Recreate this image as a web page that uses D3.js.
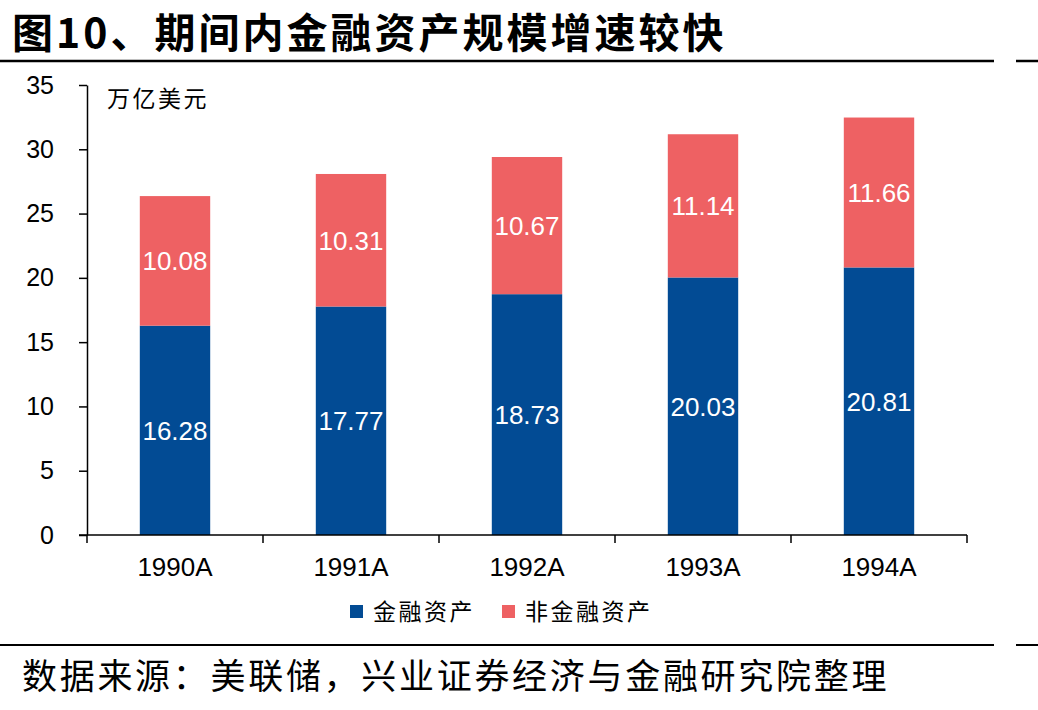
<!DOCTYPE html>
<html>
<head>
<meta charset="utf-8">
<script src="https://cdn.jsdelivr.net/npm/d3@7"></script>
<style>
  html, body { margin: 0; padding: 0; background: #fff; }
  svg { display: block; }
</style>
</head>
<body>
<svg id="chart" width="1038" height="710"></svg>
<script>
// data
const years = ["1990A", "1991A", "1992A", "1993A", "1994A"]
const financial = [16.28, 17.77, 18.73, 20.03, 20.81]
const nonFinancial = [10.08, 10.31, 10.67, 11.14, 11.66]
const yTicks = [0, 5, 10, 15, 20, 25, 30, 35]
const seriesNames = ["金融资产", "非金融资产"]
const seriesColors = ["#024B94", "#EE6163"]

const cjk = "'Noto Sans CJK SC', sans-serif"
const num = "'Liberation Sans', Arial, sans-serif"

let svg = d3.select("#chart")

// title + rules
svg.append("text")
    .text("图10、期间内金融资产规模增速较快")
    .attr("x", 12).attr("y", 48)
    .style("font-family", cjk).style("font-weight", "bold")
    .style("font-size", "41px").style("letter-spacing", "3px")
    .attr("fill", "#000")

let rules = [61, 645]
rules.forEach(y => {
    svg.append("line").attr("x1", 0).attr("x2", 994).attr("y1", y).attr("y2", y)
        .attr("stroke", "#000").attr("stroke-width", y == 61 ? 2.5 : 2)
    svg.append("line").attr("x1", 1016).attr("x2", 1038).attr("y1", y).attr("y2", y)
        .attr("stroke", "#000").attr("stroke-width", y == 61 ? 2.5 : 2)
})

// scales
const y = d3.scaleLinear().domain([0, 35]).range([535, 85])
const x = d3.scaleBand().domain(years).range([87, 967])
    .paddingInner(0.6).paddingOuter(0.3)

// bars
let stack = years.map((yr, i) => ({yr: yr, parts: [[0, financial[i]], [financial[i], financial[i] + nonFinancial[i]]]}))

stack.forEach(d => {
    d.parts.forEach((p, j) => {
        svg.append("rect")
            .attr("x", x(d.yr))
            .attr("width", x.bandwidth())
            .attr("y", y(p[1]))
            .attr("height", y(p[0]) - y(p[1]))
            .attr("fill", seriesColors[j])
        svg.append("text")
            .text((p[1] - p[0]).toFixed(2))
            .attr("x", x(d.yr) + x.bandwidth() / 2)
            .attr("y", (y(p[0]) + y(p[1])) / 2)
            .attr("dy", "0.36em")
            .style("text-anchor", "middle")
            .style("font-family", num).style("font-size", "26px")
            .attr("fill", "#fff")
    })
})

// y axis
let yAxis = svg.append("g")
    .attr("transform", "translate(87,0)")
    .call(d3.axisLeft(y).tickValues(yTicks).tickSize(8).tickPadding(25).tickSizeOuter(0))
yAxis.selectAll("path, line").attr("stroke", "#000").attr("stroke-width", 1.5)
yAxis.selectAll("text")
    .style("font-family", num).style("font-size", "25px").attr("fill", "#000")

// x axis
svg.append("line").attr("x1", 79).attr("x2", 967).attr("y1", 535).attr("y2", 535)
    .attr("stroke", "#000").attr("stroke-width", 1.5)
d3.range(years.length + 1).forEach(i => {
    let bx = x.range()[0] + i * x.step()
    svg.append("line").attr("x1", bx).attr("x2", bx).attr("y1", 535).attr("y2", 543)
        .attr("stroke", "#000").attr("stroke-width", 1.5)
})
svg.selectAll(".xlab").data(years).enter().append("text")
    .attr("class", "xlab")
    .text(d => d)
    .attr("x", d => x(d) + x.bandwidth() / 2)
    .attr("y", 576)
    .style("text-anchor", "middle")
    .style("font-family", num).style("font-size", "26px")
    .attr("fill", "#000")

// unit
svg.append("text").text("万亿美元")
    .attr("x", 107).attr("y", 107)
    .style("font-family", cjk).style("font-size", "23px").style("letter-spacing", "2.5px")
    .attr("fill", "#000")

// legend
let legX = [350, 502]
seriesNames.forEach((name, i) => {
    svg.append("rect").attr("x", legX[i]).attr("y", 605).attr("width", 13).attr("height", 13)
        .attr("fill", seriesColors[i])
    svg.append("text").text(name)
        .attr("x", legX[i] + 23).attr("y", 620)
        .style("font-family", cjk).style("font-size", "23px").style("letter-spacing", "2.5px")
        .attr("fill", "#000")
})

// source
svg.append("text")
    .text("数据来源：美联储，兴业证券经济与金融研究院整理")
    .attr("x", 22).attr("y", 689)
    .style("font-family", cjk).style("font-size", "35px").style("letter-spacing", "2.7px")
    .attr("fill", "#000")
</script>
</body>
</html>
